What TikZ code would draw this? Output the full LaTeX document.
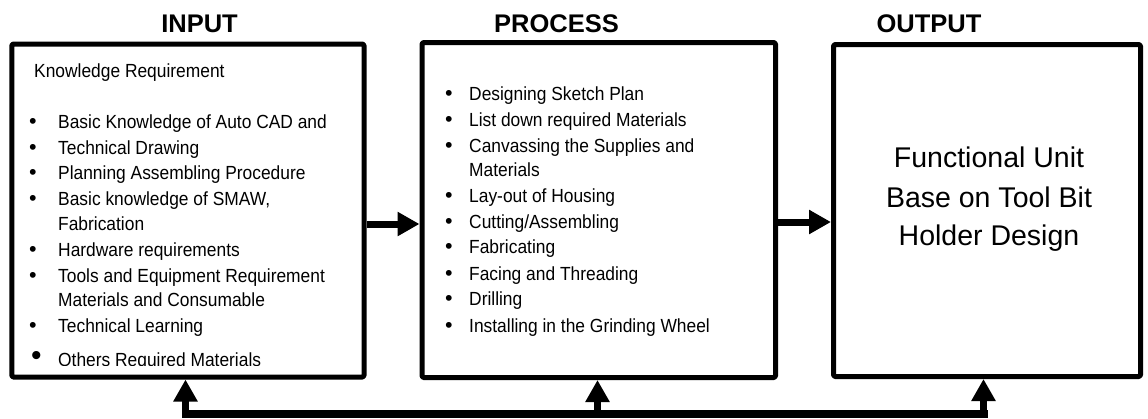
\documentclass[tikz,border=0pt]{standalone}
\usepackage{fontspec}
\setmainfont{Liberation Sans}
\newfontfamily\listfont[FakeStretch=0.915]{Liberation Sans}
\usetikzlibrary{arrows.meta}
\tikzset{
  box/.style={draw, line width=5pt, rounded corners=1.5pt, inner sep=0pt, line join=round},
  headlbl/.style={font=\fontsize{25.5}{30}\selectfont\bfseries, inner sep=0pt, anchor=base},
  item/.style={font=\listfont\fontsize{19}{25}\selectfont, inner sep=0pt, anchor=base west},
  bul/.style={font=\fontsize{21.5}{25}\selectfont, inner sep=0pt, anchor=base},
  bigbul/.style={font=\fontsize{30}{30}\selectfont, inner sep=0pt, anchor=base},
  outtxt/.style={font=\fontsize{28.5}{39}\selectfont, inner sep=0pt, anchor=base},
  flow/.style={line width=7pt, -{Triangle[length=22pt,width=23pt]}},
  fb/.style={line width=8pt, line cap=rect},
}
\begin{document}
\begin{tikzpicture}[x=1pt,y=-1pt]
\useasboundingbox (0,0) rectangle (1148,418);
\fill[white] (0,0) rectangle (1148,418);

% boxes
\node[box, minimum width=352.3pt, minimum height=333pt] (in) at (187.9,210.5) {};
\node[box, minimum width=353.5pt, minimum height=335pt] (pr) at (598.75,210) {};
\node[box, minimum width=307pt, minimum height=332pt] (out) at (987,210.5) {};

% headings
\node[headlbl] (hin) at (199.5,32) {INPUT};
\node[headlbl] (hpr) at (556.5,32) {PROCESS};
\node[headlbl] (hout) at (929,32) {OUTPUT};

% input text
\node[item] (kr) at (34,77) {Knowledge Requirement};
\foreach \t/\y [count=\i] in {
  {Basic Knowledge of Auto CAD and}/128,
  {Technical Drawing}/154,
  {Planning Assembling Procedure}/179,
  {Basic knowledge of SMAW,}/205,
  {Fabrication}/230,
  {Hardware requirements}/256,
  {Tools and Equipment Requirement}/282,
  {Materials and Consumable}/306,
  {Technical Learning}/332}
  \node[item] (in\i) at (58,\y) {\t};
\foreach \y [count=\i] in {128,154,179,205,256,282,332}
  \node[bul] (inb\i) at (33,\y) {•};
\node[bigbul] (inb8) at (36.5,365) {•};
\begin{scope}
  \clip (50,340) rectangle (360,365);
  \node[item] (in10) at (58,366.5) {Others Required Materials};
\end{scope}

% process text
\foreach \t/\y [count=\i] in {
  {Designing Sketch Plan}/100,
  {List down required Materials}/126,
  {Canvassing the Supplies and}/152,
  {Materials}/176,
  {Lay-out of Housing}/202,
  {Cutting/Assembling}/228,
  {Fabricating}/253,
  {Facing and Threading}/280,
  {Drilling}/305,
  {Installing in the Grinding Wheel}/332}
  \node[item] (pr\i) at (469,\y) {\t};
\foreach \y [count=\i] in {100,126,152,202,228,253,280,305,332}
  \node[bul] (prb\i) at (449,\y) {•};

% output text
\node[outtxt] (o1) at (989,167) {Functional Unit};
\node[outtxt] (o2) at (989,207) {Base on Tool Bit};
\node[outtxt] (o3) at (989,245) {Holder Design};

% forward arrows
\coordinate (ya) at (0,224);
\coordinate (yb) at (0,222);
\draw[flow] (in.east |- ya) -- (pr.west |- ya);
\draw[flow] (pr.east |- yb) -- (out.west |- yb);

% feedback
\coordinate (f1) at (185.5,414);
\coordinate (f2) at (597.5,414);
\coordinate (f3) at (983.5,414);
\draw[fb] (f1) -- (f2) -- (f3);
\draw[flow] (f1) -- (in.south -| f1);
\draw[flow] (f2) -- (pr.south -| f2);
\draw[flow] (f3) -- (out.south -| f3);
\end{tikzpicture}
\end{document}
